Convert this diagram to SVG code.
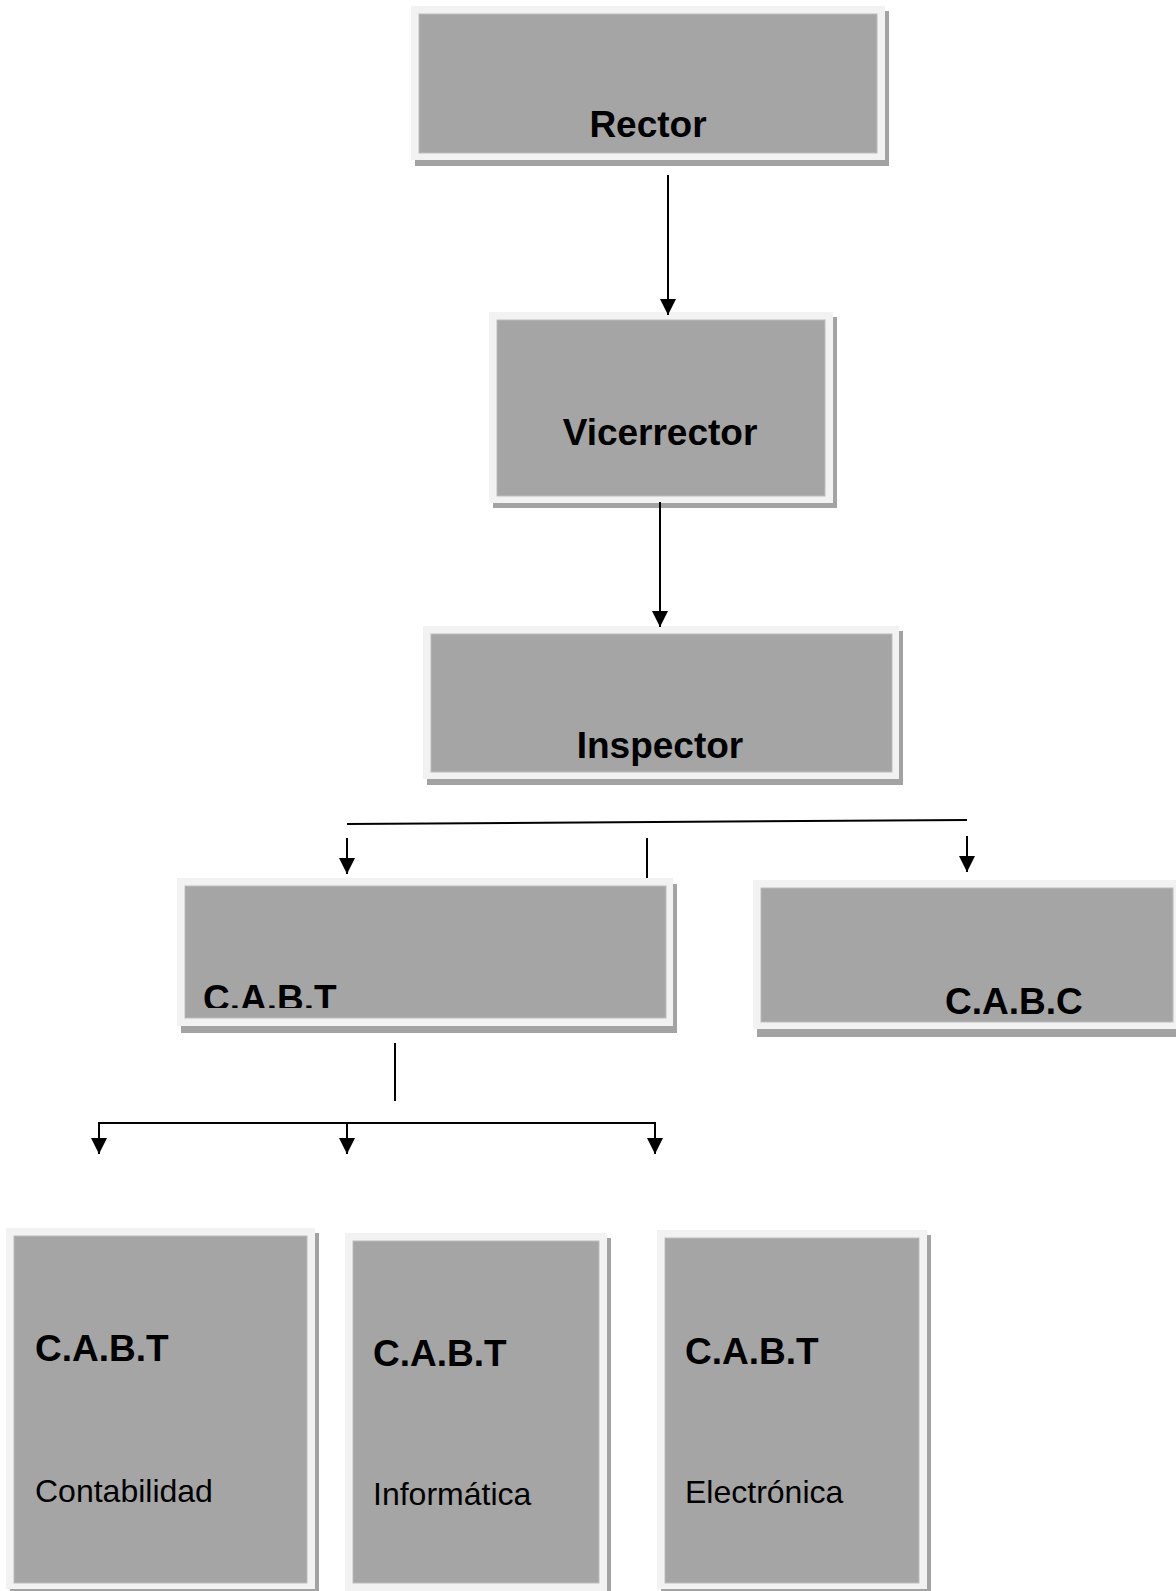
<svg xmlns="http://www.w3.org/2000/svg" width="1176" height="1591" viewBox="0 0 1176 1591">
<style>
.sh{fill:#a3a3a3}
.out{fill:#f2f2f2}
.in{fill:#a5a5a5;stroke:#bcbcbc;stroke-width:1}
.b{font-family:"Liberation Sans",Arial,sans-serif;font-weight:bold;font-size:37px;fill:#000}
.r{font-family:"Liberation Sans",Arial,sans-serif;font-size:32px;fill:#000}
.ln{stroke:#000;stroke-width:2;fill:none}
</style>
<defs>
<marker id="ah" markerUnits="userSpaceOnUse" markerWidth="17" markerHeight="16" viewBox="0 0 17 16" refX="16" refY="8" orient="auto">
<path d="M0,0 L16,8 L0,16 Z" fill="#000"/>
</marker>
<clipPath id="cl"><rect x="185" y="886" width="481" height="122"/></clipPath>
</defs>
<rect width="1176" height="1591" fill="#fff"/>
<g id="rector">
<rect class="sh" x="415" y="11" width="474" height="155"/>
<rect class="out" x="411" y="6" width="474" height="154"/>
<rect class="in" x="419" y="14" width="458" height="139"/>
<text class="b" x="648" y="137" text-anchor="middle">Rector</text>
</g>
<g id="vicerrector">
<rect class="sh" x="493" y="317" width="344" height="191"/>
<rect class="out" x="489" y="312" width="344" height="191"/>
<rect class="in" x="497" y="320" width="328" height="176"/>
<text class="b" x="660" y="445" text-anchor="middle">Vicerrector</text>
</g>
<g id="inspector">
<rect class="sh" x="427" y="631" width="476" height="154"/>
<rect class="out" x="423" y="626" width="476" height="153"/>
<rect class="in" x="431" y="634" width="461" height="138"/>
<text class="b" x="660" y="758" text-anchor="middle">Inspector</text>
</g>
<g id="cabt">
<rect class="sh" x="181" y="884" width="496" height="149"/>
<rect class="out" x="177" y="878" width="496" height="148"/>
<rect class="in" x="185" y="886" width="481" height="132"/>
<text class="b" x="203" y="1011" clip-path="url(#cl)">C.A.B.T</text>
</g>
<g id="cabc">
<rect class="sh" x="757" y="886" width="428" height="151"/>
<rect class="out" x="753" y="880" width="428" height="149"/>
<rect class="in" x="761" y="888" width="412" height="134"/>
<text class="b" x="945" y="1014">C.A.B.C</text>
</g>
<g id="contabilidad">
<rect class="sh" x="10" y="1233" width="309" height="358"/>
<rect class="out" x="6" y="1228" width="309" height="361"/>
<rect class="in" x="14" y="1236" width="293" height="347"/>
<text class="b" x="35" y="1361">C.A.B.T</text>
<text class="r" x="35" y="1502">Contabilidad</text>
</g>
<g id="informatica">
<rect class="sh" x="349" y="1238" width="262" height="353"/>
<rect class="out" x="345" y="1233" width="262" height="358"/>
<rect class="in" x="353" y="1241" width="246" height="342"/>
<text class="b" x="373" y="1366">C.A.B.T</text>
<text class="r" x="373" y="1505">Informática</text>
</g>
<g id="electronica">
<rect class="sh" x="661" y="1235" width="270" height="356"/>
<rect class="out" x="657" y="1230" width="270" height="359"/>
<rect class="in" x="665" y="1238" width="254" height="345"/>
<text class="b" x="685" y="1364">C.A.B.T</text>
<text class="r" x="685" y="1503">Electrónica</text>
</g>
<g id="connectors">
<line class="ln" x1="668" y1="175" x2="668" y2="315" marker-end="url(#ah)"/>
<line class="ln" x1="660" y1="502" x2="660" y2="627" marker-end="url(#ah)"/>
<line class="ln" x1="347" y1="824" x2="967" y2="820"/>
<line class="ln" x1="347" y1="838" x2="347" y2="874" marker-end="url(#ah)"/>
<line class="ln" x1="647" y1="838" x2="647" y2="878"/>
<line class="ln" x1="967" y1="836" x2="967" y2="872" marker-end="url(#ah)"/>
<line class="ln" x1="395" y1="1043" x2="395" y2="1101"/>
<line class="ln" x1="98" y1="1123" x2="656" y2="1123"/>
<line class="ln" x1="99" y1="1122" x2="99" y2="1154" marker-end="url(#ah)"/>
<line class="ln" x1="347" y1="1122" x2="347" y2="1154" marker-end="url(#ah)"/>
<line class="ln" x1="655" y1="1122" x2="655" y2="1154" marker-end="url(#ah)"/>
</g>
</svg>
